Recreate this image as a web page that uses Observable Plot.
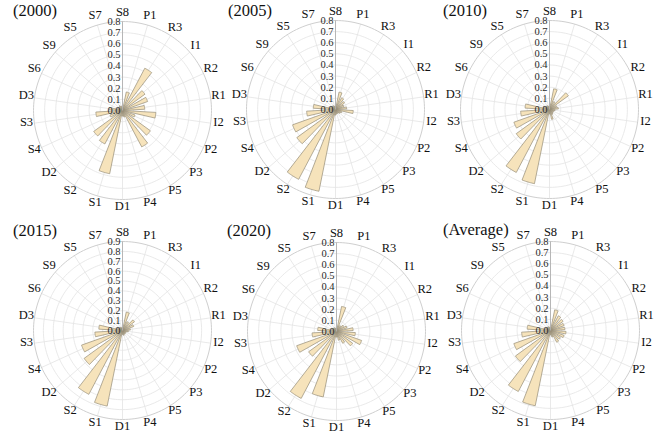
<!DOCTYPE html>
<html><head><meta charset="utf-8">
<script src="https://cdn.jsdelivr.net/npm/d3@7"></script>
<script src="https://cdn.jsdelivr.net/npm/@observablehq/plot@0.6"></script>
<style>
body{margin:0;background:#fff;}
#fig{position:relative;width:670px;height:434px;overflow:hidden;font-family:"Liberation Serif","Times New Roman",serif;background:#fff;}
.panel{position:absolute;}
.title{position:absolute;font-size:16.5px;line-height:16px;color:#111;white-space:nowrap;}
</style></head><body><div id="fig"></div>
<script>
// Categories, clockwise from the top
const categories = ["S8","P1","R3","I1","R2","R1","I2","P2","P3","P5","P4","D1","S1","S2","D2","S4","S3","D3","S6","S9","S5","S7"];
// Values per panel (same order as categories)
const v2000 = [0.02,0.17,0.43,0.25,0.24,0.20,0.30,0.12,0.31,0.37,0.06,0.05,0.58,0.34,0.32,0.12,0.24,0.12,0.05,0.04,0.05,0.04];
const v2005 = [0.03,0.16,0.12,0.10,0.08,0.10,0.16,0.06,0.05,0.04,0.04,0.05,0.75,0.71,0.43,0.41,0.26,0.20,0.05,0.04,0.04,0.03];
const v2010 = [0.03,0.19,0.08,0.21,0.07,0.08,0.05,0.04,0.04,0.05,0.09,0.04,0.68,0.64,0.37,0.34,0.26,0.22,0.06,0.04,0.04,0.03];
const v2015 = [0.03,0.19,0.10,0.15,0.12,0.08,0.06,0.04,0.04,0.04,0.05,0.04,0.78,0.73,0.48,0.44,0.28,0.24,0.06,0.04,0.04,0.03];
const v2020 = [0.03,0.23,0.06,0.08,0.10,0.15,0.17,0.24,0.18,0.12,0.08,0.05,0.60,0.68,0.31,0.38,0.22,0.17,0.05,0.04,0.04,0.03];
const vAverage = [0.03,0.19,0.15,0.14,0.13,0.13,0.14,0.13,0.11,0.12,0.06,0.04,0.69,0.62,0.39,0.35,0.26,0.21,0.05,0.04,0.04,0.03];
const panelTitles = ["(2000)","(2005)","(2010)","(2015)","(2020)","(Average)"];
const radialMax = [0.8,0.8,0.8,0.9,0.8,0.8];
const panelValues = [v2000, v2005, v2010, v2015, v2020, vAverage];

// Layout (pixels)
const centers = [[122,110],[335,109],[549,109],[122,330],[336,331],[550,330]];
const titlePos = [[13,3],[228,3],[443,3],[13,223],[227,223],[443,222]];
const R = 89, HALF = 112;

const fig = document.getElementById("fig");
const n = categories.length;
const step = 2 * Math.PI / n;
const bw = step * 0.6;

panelValues.forEach((values, p) => {
  const rmax = radialMax[p];
  const k = HALF / R * rmax;
  const ticks = d3.range(0, Math.round(rmax * 10) + 1).map(i => i / 10);
  const rings = ticks.filter(t => t > 0).flatMap(t =>
    d3.range(0, 181).map(j => ({ring: t, x: t * Math.sin(j / 180 * 2 * Math.PI), y: t * Math.cos(j / 180 * 2 * Math.PI)})));
  const outer = rings.filter(d => Math.abs(d.ring - rmax) < 1e-9);
  const inner = rings.filter(d => Math.abs(d.ring - rmax) >= 1e-9);
  const bars = values.flatMap((v, i) => {
    const a = i * step;
    const pts = [{id: i, x: 0, y: 0}];
    for (let j = 0; j <= 10; j++) {
      const t = a - bw / 2 + bw * j / 10;
      pts.push({id: i, x: v * Math.sin(t), y: v * Math.cos(t)});
    }
    pts.push({id: i, x: 0, y: 0});
    return pts;
  });
  const L = rmax * 97 / R;
  const svg = Plot.plot({
    width: 2 * HALF, height: 2 * HALF, margin: 0,
    style: {fontFamily: "'Liberation Serif','Times New Roman',serif", background: "transparent", overflow: "visible"},
    x: {domain: [-k, k], axis: null},
    y: {domain: [-k, k], axis: null},
    marks: [
      Plot.line(inner, {x: "x", y: "y", z: "ring", stroke: "#e3e3e3", strokeWidth: 0.8, curve: "linear"}),
      Plot.link(categories, {x1: () => 0, y1: () => 0, x2: (c, i) => rmax * Math.sin(i * step), y2: (c, i) => rmax * Math.cos(i * step), stroke: "#e3e3e3", strokeWidth: 0.8}),
      Plot.line(outer, {x: "x", y: "y", z: "ring", stroke: "#cfcfcf", strokeWidth: 1, curve: "linear"}),
      Plot.line(bars, {x: "x", y: "y", z: "id", fill: "#f6e3bb", stroke: "#958c77", strokeWidth: 0.7, curve: "linear"}),
      Plot.link([0], {x1: () => 0, y1: () => 0, x2: () => 0, y2: () => rmax, stroke: "#b0b0b0", strokeWidth: 0.9}),
      Plot.text(ticks, {x: () => 0, y: d => d, text: d => d.toFixed(1), textAnchor: "end", dx: -2, fontSize: 10.5, fill: "#2a2a2a"}),
      Plot.text(categories, {x: (c, i) => L * Math.sin(i * step), y: (c, i) => L * Math.cos(i * step), text: d => d, dy: -2, fontSize: 12.5, fill: "#111", textAnchor: "middle"})
    ]
  });
  const div = document.createElement("div");
  div.className = "panel";
  div.style.left = (centers[p][0] - HALF) + "px";
  div.style.top = (centers[p][1] - HALF) + "px";
  div.appendChild(svg);
  fig.appendChild(div);
  const t = document.createElement("div");
  t.className = "title";
  t.style.left = titlePos[p][0] + "px";
  t.style.top = titlePos[p][1] + "px";
  t.textContent = panelTitles[p];
  fig.appendChild(t);
});
</script>
</body></html>
